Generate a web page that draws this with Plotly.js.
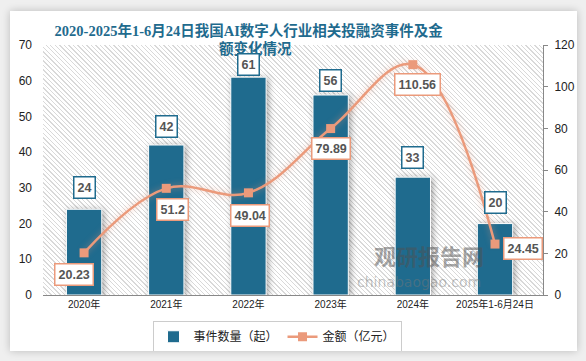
<!DOCTYPE html>
<html>
<head>
<meta charset="utf-8">
<script src="https://cdn.plot.ly/plotly-3.0.1.min.js"></script>
<style>
  html, body { margin:0; padding:0; background:#efefef; width:586px; height:361px; overflow:hidden; }
  #card { position:absolute; left:10px; top:11px; width:567px; height:340px; background:#fff;
          box-shadow:0 0 8px rgba(0,0,0,0.22); }
  #hatch { position:absolute; left:33px; top:34px; width:500px; height:250px;
           background:repeating-linear-gradient(45deg, #ffffff 0px, #ffffff 2.2px, #d9d9d9 2.2px, #d9d9d9 3.2px); }
  #chart { position:absolute; left:0; top:0; width:567px; height:340px; }
  .barlayer .point path { filter: drop-shadow(2px 1px 3px rgba(0,0,0,0.35)); }
  .scatterlayer .js-line { filter: drop-shadow(0 0 3px rgba(235,150,120,0.55)); }
</style>
</head>
<body>
<div id="card"><div id="hatch"></div><div id="chart"></div></div>
<script>
// ---- data ----
var categories = ['2020年', '2021年', '2022年', '2023年', '2024年', '2025年1-6月24日'];
var events = [24, 42, 61, 56, 33, 20];
var amounts = [20.23, 51.2, 49.04, 79.89, 110.56, 24.45];

// ---- styles ----
var barColor = '#1f6b8e';
var lineColor = '#eb9a7b';
var titleFont = {family: 'Liberation Serif, Noto Sans CJK SC, serif', size: 14.5, color: '#1f6b8e'};
var labelFont = {family: 'Liberation Sans, Arial, sans-serif', size: 12.5, color: '#555555', weight: 'bold'};
var barLabelGap = [10, 7, 1, 3, 8, 10];
var lineLabelShift = [[-10, -10], [6, -10], [2, -11], [0, -8], [5, -8], [8, -4]];

var annotations = [];
// second line of the (wrapped) title
annotations.push({x: 0.424, y: 0.986, xref: 'paper', yref: 'paper', xanchor: 'center', yanchor: 'middle',
  text: '<b>额变化情况</b>', showarrow: false, font: titleFont});
categories.forEach(function (c, i) {
  annotations.push({
    x: c, y: events[i], xref: 'x', yref: 'y', yanchor: 'bottom', yshift: barLabelGap[i],
    text: '<b>' + events[i] + '</b>', showarrow: false,
    bgcolor: '#ffffff', bordercolor: barColor, borderwidth: 1.5, borderpad: 3, font: labelFont
  });
  var last = i === categories.length - 1;
  annotations.push({
    x: c, y: amounts[i], xref: 'x', yref: 'y2',
    xanchor: last ? 'left' : 'center', yanchor: last ? 'middle' : 'top',
    xshift: lineLabelShift[i][0], yshift: lineLabelShift[i][1],
    text: '<b>' + amounts[i] + '</b>', showarrow: false,
    bgcolor: '#ffffff', bordercolor: lineColor, borderwidth: 1.5, borderpad: 3, font: labelFont
  });
});
// watermark
annotations.push({x: 0.886, y: 0.09, xref: 'paper', yref: 'paper', text: '<b>观研报告网</b>', showarrow: false,
  font: {family: 'Noto Sans CJK SC', size: 22, color: 'rgba(80,80,80,0.5)'}});
annotations.push({x: 0.88, y: 0.012, xref: 'paper', yref: 'paper', text: 'chinabaogao.com', showarrow: false,
  font: {family: 'DejaVu Sans', size: 14, color: 'rgba(120,120,120,0.45)'}});

var traces = [
  {
    type: 'bar', name: '事件数量（起）', x: categories, y: events, yaxis: 'y',
    width: 0.43, marker: {color: barColor, line: {color: '#ffffff', width: 1}}, hoverinfo: 'none'
  },
  {
    type: 'scatter', mode: 'lines+markers', name: '金额（亿元）', x: categories, y: amounts, yaxis: 'y2',
    line: {color: lineColor, width: 2.5, shape: 'spline', smoothing: 1.1},
    marker: {symbol: 'square', size: 9, color: lineColor}, hoverinfo: 'none'
  }
];

var tickFont = {family: 'Liberation Sans, Noto Sans CJK SC, sans-serif', size: 12, color: '#222'};

var layout = {
  width: 567, height: 340,
  margin: {l: 33, r: 34, t: 34, b: 56, autoexpand: false},
  paper_bgcolor: 'rgba(0,0,0,0)', plot_bgcolor: 'rgba(0,0,0,0)',
  title: {
    text: '<b>2020-2025年1-6月24日我国AI数字人行业相关投融资事件及金</b>',
    x: 0.421, xanchor: 'center', y: 0.941, yanchor: 'middle', yref: 'container',
    font: titleFont
  },
  xaxis: {
    type: 'category', showgrid: false, showline: true, linecolor: '#888', linewidth: 1,
    ticks: '', zeroline: false,
    tickfont: {family: 'Liberation Sans, Noto Sans CJK SC, sans-serif', size: 10, color: '#222'}
  },
  yaxis: {
    range: [0, 70], dtick: 10, showgrid: false, zeroline: false, showline: false,
    ticks: '', ticklabelstandoff: 10, tickfont: tickFont
  },
  yaxis2: {
    range: [0, 120], dtick: 20, overlaying: 'y', side: 'right', showgrid: false, zeroline: false,
    showline: true, linecolor: '#888', linewidth: 1, ticks: 'outside', ticklen: 4, tickcolor: '#888',
    ticklabelstandoff: 4, tickfont: tickFont
  },
  showlegend: true,
  legend: {
    orientation: 'h', x: 0.468, xanchor: 'center', y: -0.105, yanchor: 'top',
    bordercolor: '#cccccc', borderwidth: 1, bgcolor: '#ffffff',
    font: {family: 'Noto Sans CJK SC, sans-serif', size: 12, color: '#222'},
    itemwidth: 30
  },
  annotations: annotations,
  bargap: 0.5
};

Plotly.newPlot('chart', traces, layout, {displayModeBar: false, staticPlot: true});
</script>
</body>
</html>
